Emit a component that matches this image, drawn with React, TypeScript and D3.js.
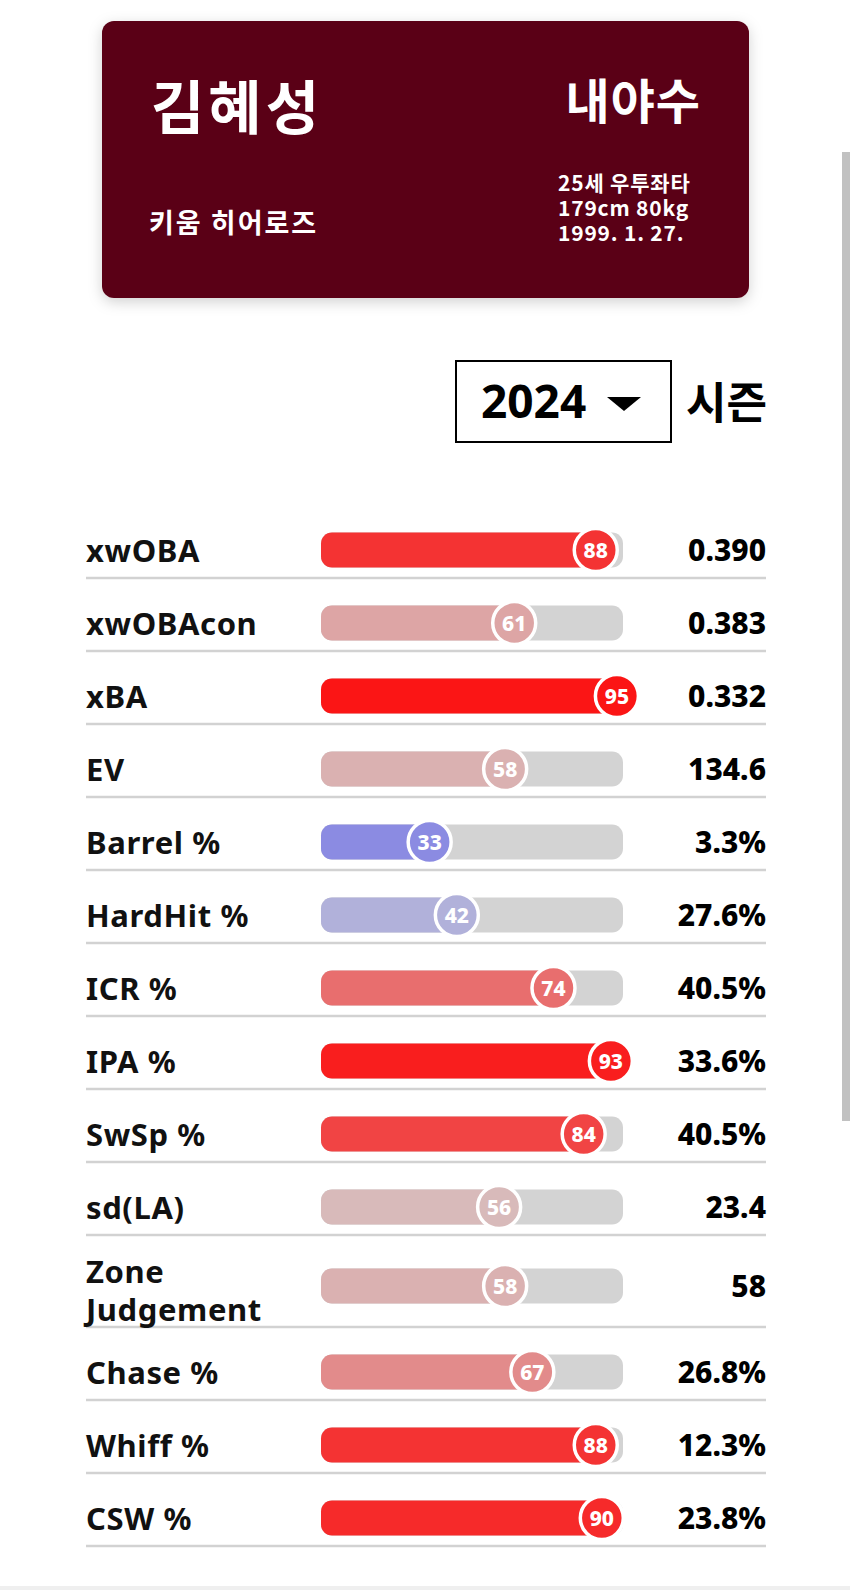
import React, { useEffect, useRef } from 'react';
import * as d3 from 'd3';

// player card
const playerName = '김혜성';
const playerTeam = '키움 히어로즈';
const playerPosition = '내야수';
const playerInfo = ['25세 우투좌타', '179cm 80kg', '1999. 1. 27.'];
const season = '2024';
const seasonLabel = '시즌';

// percentile rows
const metricLabels = [
  'xwOBA', 'xwOBAcon', 'xBA', 'EV', 'Barrel %', 'HardHit %', 'ICR %',
  'IPA %', 'SwSp %', 'sd(LA)', 'Zone\nJudgement', 'Chase %', 'Whiff %', 'CSW %'
];
const percentiles = [88, 61, 95, 58, 33, 42, 74, 93, 84, 56, 58, 67, 88, 90];
const metricValues = [
  '0.390', '0.383', '0.332', '134.6', '3.3%', '27.6%', '40.5%',
  '33.6%', '40.5%', '23.4', '58', '26.8%', '12.3%', '23.8%'
];

const W = 850;
const H = 1590;
const KR = '"Noto Sans CJK KR", "Noto Sans", sans-serif';
const LAT = '"Noto Sans", "Noto Sans CJK KR", sans-serif';

export default function App() {
  const svgRef = useRef<SVGSVGElement>(null);

  useEffect(() => {
    if (!svgRef.current) return;
    const svg = d3.select(svgRef.current);
    svg.selectAll('*').remove();

    svg.append('rect').attr('width', W).attr('height', H).attr('fill', '#fff');

    // card shadow
    const defs = svg.append('defs');
    const f = defs.append('filter').attr('id', 'card-shadow')
      .attr('x', '-10%').attr('y', '-10%').attr('width', '120%').attr('height', '130%');
    f.append('feDropShadow')
      .attr('dx', 0).attr('dy', 4).attr('stdDeviation', 7)
      .attr('flood-color', '#000').attr('flood-opacity', 0.18);

    // ---- player card ----
    const card = { x: 102, y: 21, w: 647, h: 277 };
    svg.append('rect')
      .attr('x', card.x).attr('y', card.y)
      .attr('width', card.w).attr('height', card.h)
      .attr('rx', 12)
      .attr('fill', '#5a0516')
      .attr('filter', 'url(#card-shadow)');

    svg.append('text')
      .attr('x', 151).attr('y', 129)
      .attr('font-family', KR).attr('font-weight', 700).attr('font-size', 58)
      .attr('letter-spacing', 4)
      .attr('fill', '#fff')
      .text(playerName);

    svg.append('text')
      .attr('x', 149).attr('y', 233)
      .attr('font-family', KR).attr('font-weight', 700).attr('font-size', 27)
      .attr('letter-spacing', 2)
      .attr('fill', '#fff')
      .text(playerTeam);

    svg.append('text')
      .attr('x', 701).attr('y', 119)
      .attr('text-anchor', 'end')
      .attr('font-family', KR).attr('font-weight', 700).attr('font-size', 48)
      .attr('letter-spacing', 1)
      .attr('fill', '#fff')
      .text(playerPosition);

    svg.append('g')
      .selectAll('text')
      .data(playerInfo)
      .join('text')
      .attr('x', 558)
      .attr('y', (_, i) => 191 + i * 25)
      .attr('font-family', KR).attr('font-weight', 700).attr('font-size', 21)
      .attr('letter-spacing', 0.8)
      .attr('fill', '#fff')
      .text(d => d);

    // ---- season selector ----
    svg.append('rect')
      .attr('x', 456).attr('y', 361)
      .attr('width', 215).attr('height', 81)
      .attr('fill', '#fff')
      .attr('stroke', '#000').attr('stroke-width', 2);

    svg.append('text')
      .attr('x', 481).attr('y', 418)
      .attr('font-family', LAT).attr('font-weight', 700).attr('font-size', 46)
      .attr('fill', '#000')
      .text(season);

    svg.append('path')
      .attr('d', 'M607,397 L641,397 L624,411 Z')
      .attr('fill', '#000');

    svg.append('text')
      .attr('x', 686).attr('y', 419)
      .attr('font-family', KR).attr('font-weight', 700).attr('font-size', 44)
      .attr('fill', '#000')
      .text(seasonLabel);

    // ---- percentile rows ----
    const barLeft = 321;
    const barRight = 623;
    const barH = 35;
    const labelX = 86;
    const valueX = 766;

    const x = d3.scaleLinear().domain([0, 100]).range([barLeft, barRight]);
    const markerOffset = 9;
    const color = d3.scaleLinear<string>()
      .domain([0, 50, 100])
      .range(['blue', 'lightgrey', 'red'])
      .interpolate(d3.interpolateRgb);

    // row layout: one-line rows are 73 tall, two-line 92
    let top = 505;
    const rows = metricLabels.map((label, i) => {
      const lines = label.split('\n');
      const h = lines.length > 1 ? 92 : 73;
      const cy = top + (lines.length > 1 ? 51 : 45);
      const r = { label, lines, pct: percentiles[i], value: metricValues[i], top, h, cy };
      top += h;
      return r;
    });

    const g = svg.append('g');
    const row = g.selectAll('g.row').data(rows).join('g').attr('class', 'row');

    row.append('line')
      .attr('x1', labelX).attr('x2', valueX)
      .attr('y1', d => d.top + d.h).attr('y2', d => d.top + d.h)
      .attr('stroke', '#d2d2d2').attr('stroke-width', 2.5);

    row.append('text')
      .attr('font-family', LAT).attr('font-weight', 700).attr('font-size', 31)
      .attr('letter-spacing', 0.6)
      .attr('fill', '#111')
      .each(function (d) {
        const t = d3.select(this);
        const n = d.lines.length;
        d.lines.forEach((ln, k) => {
          t.append('tspan')
            .attr('x', labelX)
            .attr('y', d.cy + 12 + (k - (n - 1) / 2) * 38 + (n > 1 ? 4 : 0))
            .text(ln);
        });
      });

    row.append('rect')
      .attr('x', barLeft).attr('y', d => d.cy - barH / 2)
      .attr('width', barRight - barLeft).attr('height', barH)
      .attr('rx', 11)
      .attr('fill', 'lightgrey');

    row.append('rect')
      .attr('x', barLeft).attr('y', d => d.cy - barH / 2)
      .attr('width', d => x(d.pct) + markerOffset - barLeft).attr('height', barH)
      .attr('rx', 11)
      .attr('fill', d => color(d.pct));

    row.append('circle')
      .attr('cx', d => x(d.pct) + markerOffset)
      .attr('cy', d => d.cy)
      .attr('r', 21.5)
      .attr('fill', d => color(d.pct))
      .attr('stroke', '#fff').attr('stroke-width', 3.5);

    row.append('text')
      .attr('x', d => x(d.pct) + markerOffset)
      .attr('y', d => d.cy + 7.5)
      .attr('text-anchor', 'middle')
      .attr('font-family', LAT).attr('font-weight', 800).attr('font-size', 21)
      .attr('fill', '#fff')
      .text(d => d.pct);

    row.append('text')
      .attr('x', valueX).attr('y', d => d.cy + 11)
      .attr('text-anchor', 'end')
      .attr('font-family', LAT).attr('font-weight', 800).attr('font-size', 30)
      .attr('fill', '#000')
      .text(d => d.value);

    // page chrome: scrollbar and bottom edge
    svg.append('rect')
      .attr('x', 842).attr('y', 152).attr('width', 8).attr('height', 969)
      .attr('fill', '#c1c1c1');
    svg.append('rect')
      .attr('x', 0).attr('y', 1586).attr('width', W).attr('height', 4)
      .attr('fill', '#efefef');
  }, []);

  return (
    <div style={{ position: 'absolute', left: 0, top: 0, width: W, height: H }}>
      <svg ref={svgRef} width={W} height={H} style={{ display: 'block' }}></svg>
    </div>
  );
}
